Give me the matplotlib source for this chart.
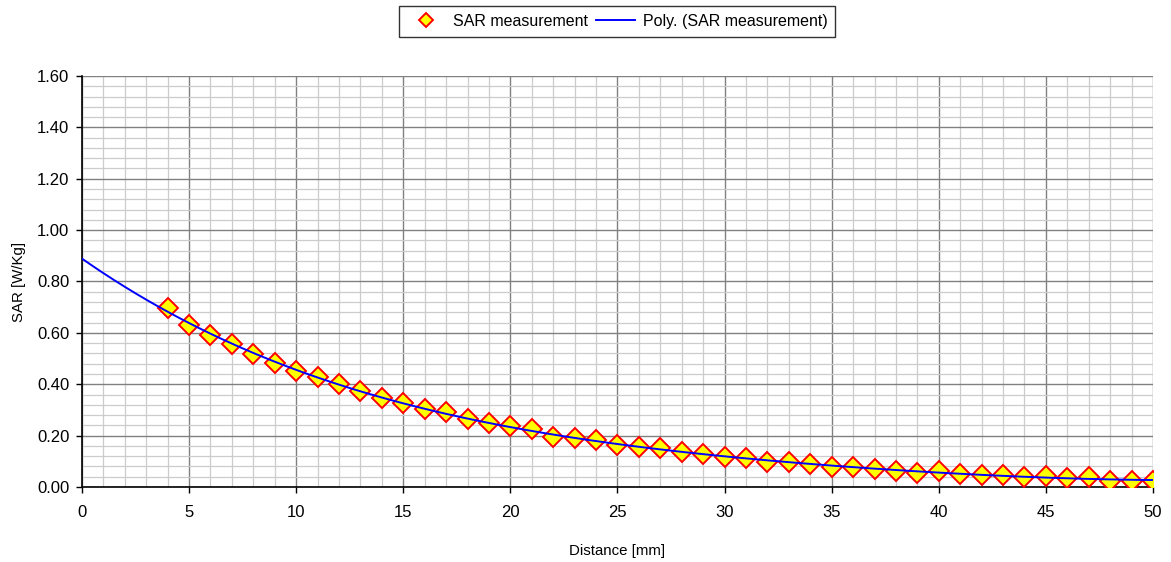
import numpy as np
import matplotlib.pyplot as plt
from matplotlib.ticker import MultipleLocator, FormatStrFormatter

plt.rcParams['font.family'] = ['Liberation Sans', 'DejaVu Sans']

distance = list(range(4, 51))
sar = [0.696, 0.631, 0.592, 0.557, 0.518, 0.484, 0.453, 0.429, 0.399, 0.374,
       0.345, 0.328, 0.304, 0.292, 0.266, 0.248, 0.236, 0.225, 0.196, 0.190,
       0.183, 0.163, 0.157, 0.151, 0.138, 0.128, 0.118, 0.112, 0.096, 0.096,
       0.090, 0.079, 0.077, 0.071, 0.064, 0.056, 0.062, 0.051, 0.047, 0.047,
       0.038, 0.043, 0.034, 0.038, 0.025, 0.025, 0.025]

# Excel style polynomial trendline, backward forecast to 0 mm
coef = np.polyfit(distance, sar, 4)
x_fit = np.linspace(0, 50, 200)
y_fit = np.polyval(coef, x_fit)

fig = plt.figure(figsize=(11.71, 5.62), dpi=100)
ax = fig.add_axes([0.070, 0.1335, 0.9146, 0.7313])

ax.plot(distance, sar, linestyle='none', marker='D', markersize=10,
        markerfacecolor='#ffff00', markeredgecolor='#ff0000', markeredgewidth=1.4,
        label='SAR measurement', zorder=3)
ax.plot(x_fit, y_fit, color='#0000ff', linewidth=1.4,
        label='Poly. (SAR measurement)', zorder=4)

ax.set_xlim(0, 50)
ax.set_ylim(0, 1.6)
ax.xaxis.set_major_locator(MultipleLocator(5))
ax.xaxis.set_minor_locator(MultipleLocator(1))
ax.yaxis.set_major_locator(MultipleLocator(0.2))
ax.yaxis.set_minor_locator(MultipleLocator(0.04))
ax.yaxis.set_major_formatter(FormatStrFormatter('%.2f'))

ax.grid(which='major', color='#808080', linewidth=1.0)
ax.grid(which='minor', color='#cccccc', linewidth=0.9)
ax.set_axisbelow(True)

for s in ['top', 'right']:
    ax.spines[s].set_visible(False)
for s in ['left', 'bottom']:
    ax.spines[s].set_color('black')
    ax.spines[s].set_linewidth(1.2)

ax.tick_params(which='major', direction='out', length=4, width=1, labelsize=12)
ax.tick_params(axis='x', pad=9)
ax.tick_params(axis='y', pad=5)
ax.tick_params(which='minor', length=0)

ax.set_xlabel('Distance [mm]', fontsize=10.8, labelpad=17)
ax.set_ylabel('SAR [W/Kg]', fontsize=10.8, labelpad=8)

leg = fig.legend(loc='center', bbox_to_anchor=(0.527, 0.9626), ncol=2,
                 fancybox=False, edgecolor='black', fontsize=11.5,
                 handlelength=2.4, columnspacing=0.5, handletextpad=0.5,
                 borderpad=0.5, markerscale=0.7)
leg.get_frame().set_linewidth(1.0)

fig.savefig('out.png', dpi=100)
